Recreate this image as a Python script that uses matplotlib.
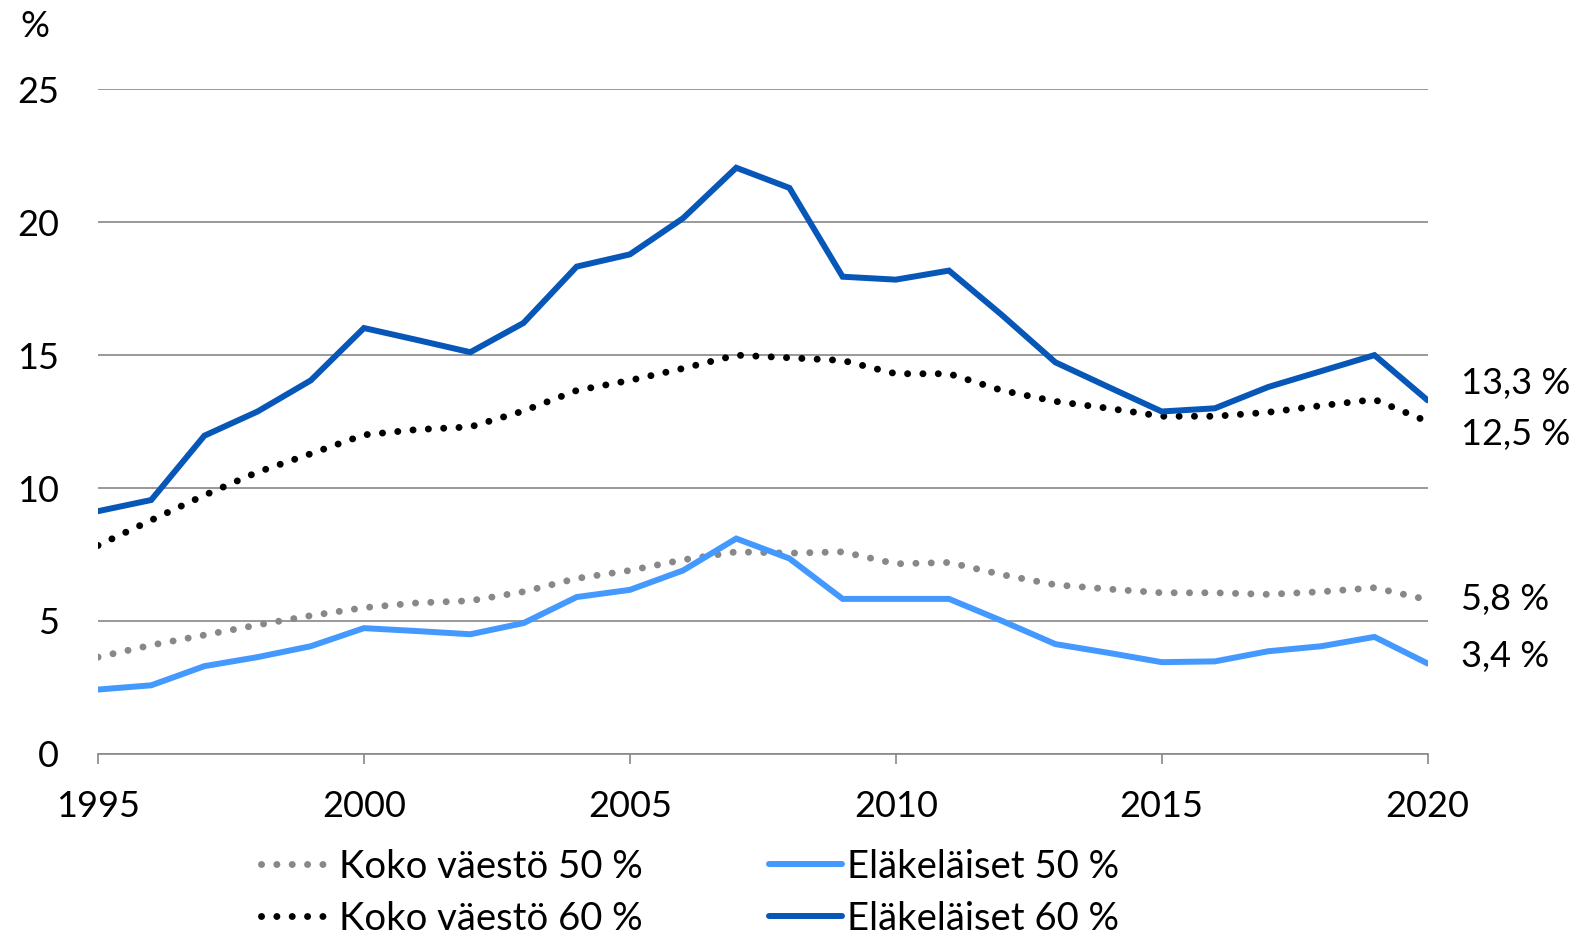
import matplotlib
matplotlib.use("Agg")
import matplotlib.pyplot as plt

plt.rcParams['font.family'] = ['Lato', 'DejaVu Sans']

years = list(range(1995, 2021))

# Eläkeläiset 60 %
elak_60 = [9.13, 9.55, 11.97, 12.88, 14.05, 16.02, 15.57, 15.11, 16.21, 18.33, 18.79, 20.15, 22.05,
           21.29, 17.95, 17.84, 18.18, 16.5, 14.73, 13.8, 12.88, 13.0, 13.8, 14.4, 15.0, 13.3]
# Koko väestö 60 %
koko_60 = [7.84, 8.79, 9.73, 10.6, 11.29, 12.0, 12.2, 12.3, 12.9, 13.67, 14.05, 14.5, 15.0,
           14.9, 14.8, 14.3, 14.3, 13.67, 13.26, 13.0, 12.7, 12.7, 12.85, 13.1, 13.33, 12.5]
# Koko väestö 50 %
koko_50 = [3.64, 4.09, 4.47, 4.85, 5.2, 5.5, 5.68, 5.76, 6.1, 6.6, 6.9, 7.3, 7.6,
           7.55, 7.6, 7.15, 7.2, 6.74, 6.36, 6.2, 6.06, 6.06, 6.0, 6.1, 6.25, 5.8]
# Eläkeläiset 50 %
elak_50 = [2.42, 2.58, 3.3, 3.64, 4.05, 4.73, 4.62, 4.5, 4.92, 5.9, 6.17, 6.9, 8.1,
           7.35, 5.83, 5.83, 5.83, 5.0, 4.13, 3.8, 3.45, 3.48, 3.86, 4.05, 4.4, 3.4]

end_labels = ["13,3 %", "12,5 %", "5,8 %", "3,4 %"]

fig = plt.figure(figsize=(15.81, 9.4), dpi=100)
ax = fig.add_axes([0.062, 0.198, 0.841, 0.707])

dots = (0, (0.01, 2.2))
l1, = ax.plot(years, koko_50, color='#888888', lw=5, linestyle=dots, dash_capstyle='round',
              label='Koko väestö 50 %')
l2, = ax.plot(years, koko_60, color='black', lw=5, linestyle=dots, dash_capstyle='round',
              label='Koko väestö 60 %')
l3, = ax.plot(years, elak_50, color='#4499FF', lw=4.3, solid_capstyle='round',
              solid_joinstyle='miter', label='Eläkeläiset 50 %')
l4, = ax.plot(years, elak_60, color='#0757B8', lw=4.3, solid_capstyle='round',
              solid_joinstyle='miter', label='Eläkeläiset 60 %')

ax.set_xlim(1995, 2020)
ax.set_ylim(0, 25)
ax.set_yticks([0, 5, 10, 15, 20, 25])
ax.set_xticks(range(1995, 2021, 5))
ax.grid(axis='y', color='#888888', lw=1.2)
ax.set_axisbelow(True)
for s in ['top', 'right', 'left']:
    ax.spines[s].set_visible(False)
ax.spines['bottom'].set_color('#888888')
ax.spines['bottom'].set_linewidth(1.2)
ax.tick_params(axis='y', length=0, pad=28, labelsize=26)
ax.tick_params(axis='x', length=7, width=1.2, color='#888888', pad=19, labelsize=26)

fig.text(0.022, 0.972, '%', fontsize=26, ha='center', va='center')

# value labels at the line ends
offsets = [17, -13, 0, 7]
for ser, txt, off in zip([elak_60, koko_60, koko_50, elak_50], end_labels, offsets):
    ax.annotate(txt, xy=(years[-1], ser[-1]), xytext=(33, off), textcoords='offset pixels',
                ha='left', va='center', fontsize=26, annotation_clip=False)

fig.legend(handles=[l1, l2, l3, l4], loc='upper left', bbox_to_anchor=(0.165, 0.097),
           ncol=2, frameon=False, fontsize=27.5, handlelength=1.9, handletextpad=0.15,
           columnspacing=3.3, labelspacing=0.42, borderaxespad=0, borderpad=0)

fig.savefig('out.png', dpi=100)
